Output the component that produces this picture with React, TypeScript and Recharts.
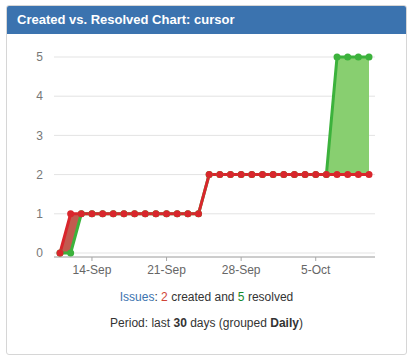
import React from 'react';
import { ComposedChart, Line, Area, XAxis, YAxis, CartesianGrid } from 'recharts';

const dates = [
  '11-Sep', '12-Sep', '13-Sep', '14-Sep', '15-Sep', '16-Sep', '17-Sep', '18-Sep', '19-Sep', '20-Sep',
  '21-Sep', '22-Sep', '23-Sep', '24-Sep', '25-Sep', '26-Sep', '27-Sep', '28-Sep', '29-Sep', '30-Sep',
  '1-Oct', '2-Oct', '3-Oct', '4-Oct', '5-Oct', '6-Oct', '7-Oct', '8-Oct', '9-Oct', '10-Oct',
];
const created = [0, 1, 1, 1, 1, 1, 1, 1, 1, 1, 1, 1, 1, 1, 2, 2, 2, 2, 2, 2, 2, 2, 2, 2, 2, 2, 2, 2, 2, 2];
const resolved = [0, 0, 1, 1, 1, 1, 1, 1, 1, 1, 1, 1, 1, 1, 2, 2, 2, 2, 2, 2, 2, 2, 2, 2, 2, 2, 5, 5, 5, 5];
const xTicks = ['14-Sep', '21-Sep', '28-Sep', '5-Oct'];
const yTicks = [0, 1, 2, 3, 4, 5];

const data = dates.map((d, i) => ({
  date: d,
  created: created[i],
  resolved: resolved[i],
  redBand: [resolved[i], Math.max(created[i], resolved[i])],
  greenBand: [created[i], Math.max(created[i], resolved[i])],
}));

const FONT = '"Liberation Sans", Arial, sans-serif';
const RED = '#d9262c';
const GREEN = '#3cb23c';

export default function App() {
  return (
    <div style={{ position: 'absolute', left: 0, top: 0, width: 420, height: 361, background: '#fff', fontFamily: FONT }}>
      <div
        style={{
          position: 'absolute', left: 6, top: 5, width: 399, height: 348,
          border: '1px solid #d6d6d6', borderRadius: 3, overflow: 'hidden',
        }}
      >
        <div
          style={{
            position: 'absolute', left: 0, top: 0, width: 399, height: 28, background: '#3b73af',
            color: '#fff', fontSize: 13, lineHeight: '28px', paddingLeft: 10, boxSizing: 'border-box',
            fontWeight: 'bold',
          }}
        >
          Created vs. Resolved Chart: cursor
        </div>
      </div>
      <div style={{ position: 'absolute', left: 0, top: 0 }}>
        <ComposedChart width={420} height={300} data={data} margin={{ top: 57, right: 45, left: 0, bottom: 13 }}>
          <CartesianGrid vertical={false} stroke="#e3e3e3" />
          <XAxis
            dataKey="date"
            ticks={xTicks}
            interval={0}
            padding={{ left: 6, right: 6 }}
            height={30}
            tickSize={4}
            tickMargin={4}
            axisLine={{ stroke: '#a8a8a8' }}
            tickLine={{ stroke: '#a8a8a8' }}
            tick={{ fill: '#666', fontSize: 12, fontFamily: FONT }}
          />
          <YAxis
            width={54}
            domain={[0, 5]}
            ticks={yTicks}
            padding={{ top: 0, bottom: 4 }}
            axisLine={false}
            tickLine={false}
            tickSize={6}
            tickMargin={5}
            tick={{ fill: '#777', fontSize: 12, fontFamily: FONT }}
          />
          <Area dataKey="greenBand" type="linear" stroke="none" fill="#88cf70" fillOpacity={1} isAnimationActive={false} />
          <Area dataKey="redBand" type="linear" stroke="none" fill="#c25a4f" fillOpacity={1} isAnimationActive={false} />
          <Line
            dataKey="resolved"
            type="linear"
            stroke={GREEN}
            strokeWidth={3}
            dot={{ r: 3.5, fill: GREEN, stroke: 'none' }}
            activeDot={false}
            isAnimationActive={false}
          />
          <Line
            dataKey="created"
            type="linear"
            stroke={RED}
            strokeWidth={3}
            dot={{ r: 3.5, fill: RED, stroke: 'none' }}
            activeDot={false}
            isAnimationActive={false}
          />
        </ComposedChart>
      </div>
      <div style={{ position: 'absolute', left: 0, width: 413, top: 289, textAlign: 'center', fontSize: 12, color: '#333', lineHeight: '16px' }}>
        <span style={{ color: '#3b73af' }}>Issues</span>: <span style={{ color: '#d04437' }}>2</span> created and{' '}
        <span style={{ color: '#14892c' }}>5</span> resolved
      </div>
      <div style={{ position: 'absolute', left: 0, width: 413, top: 315, textAlign: 'center', fontSize: 12, color: '#333', lineHeight: '16px' }}>
        Period: last <b>30</b> days (grouped <b>Daily</b>)
      </div>
    </div>
  );
}
